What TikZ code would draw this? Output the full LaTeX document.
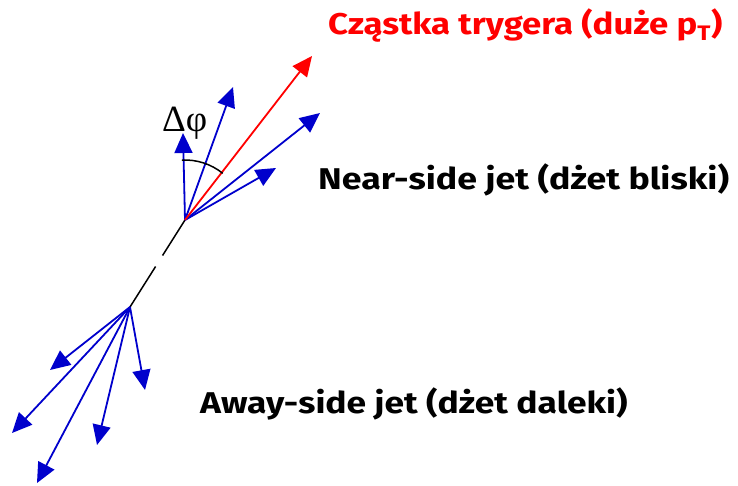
\documentclass[tikz,border=0pt]{standalone}
\usepackage{fontspec}
\usepackage{graphicx}
\usetikzlibrary{arrows.meta}
\newfontfamily\labfont{Fira Sans}
\newfontfamily\symfont{Liberation Serif}
\definecolor{jetblue}{RGB}{0,0,204}
\newcommand{\widetext}[2]{\scalebox{#1}[1]{#2}}
\begin{document}
\begin{tikzpicture}[x=1pt,y=1pt,
  jet/.style={draw=jetblue,line width=1.8pt,-{Triangle[length=20pt,width=18pt]}},
  trig/.style={draw=red,line width=1.8pt,-{Triangle[length=20pt,width=18pt]}},
  lab/.style={anchor=base west,inner sep=0pt,font=\labfont\bfseries\fontsize{30}{36}\selectfont}]
\useasboundingbox (0,0) rectangle (738,485);
% vertices
\coordinate (nv) at (185,265);
\coordinate (av) at (130,178);
% near-side tips
\coordinate (v1) at (183,352);
\coordinate (v2) at (233,398);
\coordinate (tr) at (312,429);
\coordinate (v3) at (320,372);
\coordinate (v4) at (276,317);
% away-side tips
\coordinate (a1) at (50,115);
\coordinate (a2) at (12,52);
\coordinate (a3) at (37,2);
\coordinate (a4) at (97,40);
\coordinate (a5) at (145,95);
% dashed parton line
\draw[line width=1.5pt,dash pattern=on 42pt off 13pt on 60pt] (nv) -- (av);
% near-side jet
\draw[jet] (nv) -- (v1);
\draw[jet] (nv) -- (v2);
\draw[jet] (nv) -- (v3);
\draw[jet] (nv) -- (v4);
\draw[trig] (nv) -- (tr);
% away-side jet
\draw[jet] (av) -- (a1);
\draw[jet] (av) -- (a2);
\draw[jet] (av) -- (a3);
\draw[jet] (av) -- (a4);
\draw[jet] (av) -- (a5);
% angle arc
\draw[line width=1.5pt] (nv) ++(93:60) arc[start angle=93,end angle=51,radius=60];
\node[anchor=base west,inner sep=0pt,font=\symfont\fontsize{37}{44}\selectfont] (dphi) at (162,353) {Δφ};
% labels
\node[lab,text=red] (title) at (328,450) {\widetext{1.16}{Cząstka trygera (duże p\textsubscript{T})}};
\node[lab] (near) at (318,295) {\widetext{1.19}{Near-side jet (dżet bliski)}};
\node[lab] (away) at (200,72) {\widetext{1.18}{Away-side jet (dżet daleki)}};
\end{tikzpicture}
\end{document}
